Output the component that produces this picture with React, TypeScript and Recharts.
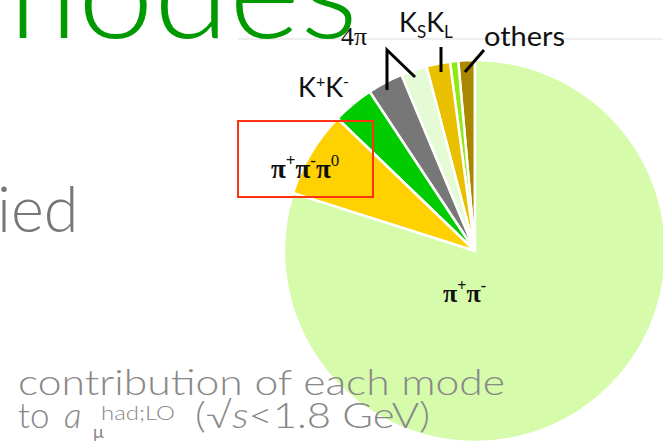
import { Cell, Pie, PieChart } from "recharts";

// share of a_mu^had,LO per channel (percent)
const modes = ["others", "minor", "KSKL", "4pi-b", "4pi-a", "K+K-", "pi+pi-pi0", "pi+pi-"];
const shares = [1.4, 0.7, 2.0, 2.2, 3.0, 3.5, 7.3, 79.9];
const colors = [
  "#a98800",
  "#8ceb12",
  "#e9c000",
  "#e4fbd6",
  "#777777",
  "#00cc00",
  "#ffd100",
  "#d5fbab",
];

const data = modes.map((name, i) => ({ name, value: shares[i] }));

const sans = "Lato, 'Open Sans', sans-serif";
const serif = "'Liberation Serif', 'DejaVu Serif', serif";

export default function App() {
  return (
    <div style={{ position: "relative", width: 663, height: 444, overflow: "hidden", background: "#fff" }}>
      <style>{`body{margin:0}`}</style>
      <div style={{ position: "absolute", left: 0, top: 0 }}>
        <PieChart width={663} height={444} margin={{ top: 0, right: 0, bottom: 0, left: 0 }}>
          <Pie
            data={data}
            dataKey="value"
            cx={475}
            cy={251}
            outerRadius={191}
            startAngle={90}
            endAngle={450}
            stroke="#ffffff"
            strokeWidth={2.5}
            isAnimationActive={false}
            label={false}
            labelLine={false}
          >
            {data.map((d, i) => (
              <Cell key={d.name} fill={colors[i]} />
            ))}
          </Pie>
        </PieChart>
      </div>
      <svg
        width={663}
        height={444}
        style={{ position: "absolute", left: 0, top: 0, pointerEvents: "none" }}
      >
        <line x1={238} y1={39} x2={663} y2={39} stroke="#eeeeee" strokeWidth={2} />
        <text x={-32} y={38} fontSize={130} fontWeight={300} fill="#009900" fontFamily={sans} textLength={390} lengthAdjust="spacingAndGlyphs">
          modes
        </text>
        <text x={-3} y={232} fontSize={63} fontWeight={300} fill="#777777" fontFamily={sans}>
          ied
        </text>

        <text x={18} y={395} fontSize={35} fontWeight={300} fill="#888888" fontFamily={sans} textLength={487} lengthAdjust="spacingAndGlyphs">
          contribution of each mode
        </text>
        <text x={18} y={428} fontSize={35} fontWeight={300} fill="#888888" fontFamily={sans}>
          to
        </text>
        <text x={64} y={428} fontSize={35} fontStyle="italic" fontWeight={300} fill="#888888" fontFamily={sans}>
          a
        </text>
        <text x={93} y={438} fontSize={18} fill="#888888" fontFamily={sans}>
          μ
        </text>
        <text x={101} y={420} fontSize={20} fontWeight={300} fill="#888888" fontFamily={sans} textLength={74} lengthAdjust="spacingAndGlyphs">
          had;LO
        </text>
        <text x={195} y={428} fontSize={35} fontWeight={300} fill="#888888" fontFamily={sans} textLength={235} lengthAdjust="spacingAndGlyphs">
          (√<tspan fontStyle="italic">s</tspan>&lt;1.8 GeV)
        </text>

        {/* slice labels */}
        <text x={443} y={302} fontSize={26} fontWeight="bold" fill="#111" fontFamily={serif}>
          π<tspan fontSize={16} dy={-11}>+</tspan>
          <tspan dy={11}>π</tspan>
          <tspan fontSize={16} dy={-11}>-</tspan>
        </text>
        <text x={271} y={178} fontSize={27} fontWeight="bold" fill="#111" fontFamily={serif}>
          π<tspan fontSize={17} dy={-12}>+</tspan>
          <tspan dy={12}>π</tspan>
          <tspan fontSize={17} dy={-12}>-</tspan>
          <tspan dy={12}>π</tspan>
          <tspan fontSize={17} fontWeight="normal" dy={-12}>0</tspan>
        </text>
        <text x={298} y={97} fontSize={27} fill="#111" fontFamily={sans}>
          K<tspan fontSize={16} dy={-10}>+</tspan>
          <tspan dy={10}>K</tspan>
          <tspan fontSize={16} dy={-10}>-</tspan>
        </text>
        <text x={341} y={45} fontSize={26} fill="#111" fontFamily={serif}>
          4π
        </text>
        <text x={399} y={32} fontSize={27} fill="#111" fontFamily={sans}>
          K<tspan fontSize={17} dy={6}>S</tspan>
          <tspan dy={-6}>K</tspan>
          <tspan fontSize={17} dy={6}>L</tspan>
        </text>
        <text x={484} y={46} fontSize={27} fill="#111" fontFamily={sans} textLength={81} lengthAdjust="spacingAndGlyphs">
          others
        </text>

        {/* leader lines */}
        <polyline points="387,90 387,50 415,77" fill="none" stroke="#000" strokeWidth={3} />
        <line x1={441} y1={47} x2={441} y2={72} stroke="#000" strokeWidth={3} />
        <line x1={484} y1={50} x2={465} y2={72} stroke="#000" strokeWidth={3} />

        <rect x={238} y={121} width={135} height={76} fill="none" stroke="#ff3311" strokeWidth={2} />
      </svg>
    </div>
  );
}
